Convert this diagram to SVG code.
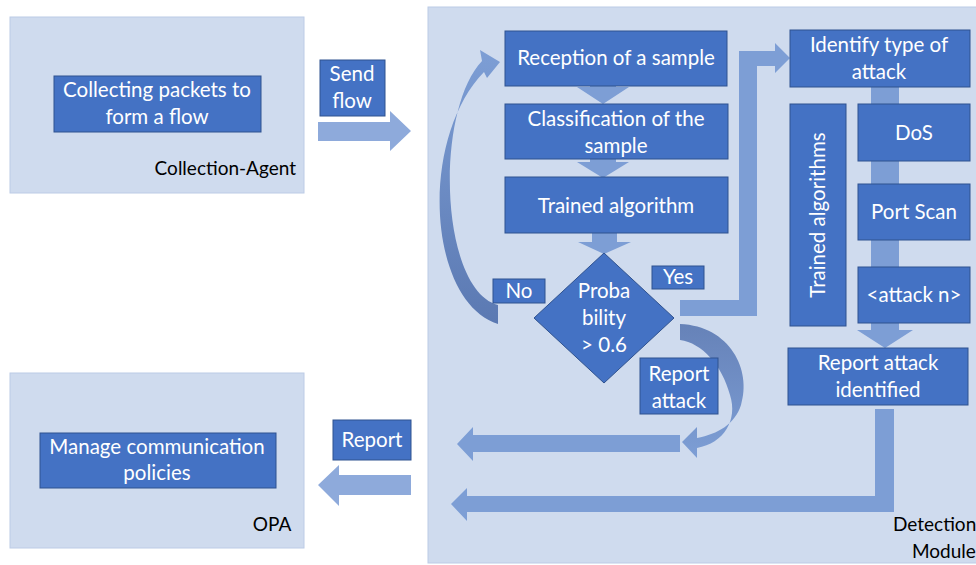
<svg xmlns="http://www.w3.org/2000/svg" width="976" height="565" viewBox="0 0 976 565">
  <defs>
    <style>
      .panel { fill: #cfdbee; stroke: #bccbe6; stroke-width: 1; }
      .box { fill: #4472c4; stroke: #2f528f; stroke-width: 1; }
      .lbl { fill: #ffffff; font-family: Lato, "Liberation Sans", sans-serif; font-size: 20.5px; text-anchor: middle; }
      .cap { fill: #000000; font-family: Lato, "Liberation Sans", sans-serif; font-size: 19px; }
      .flow { fill: #7d9ed5; }
      .flow-light { fill: #8eaadb; }
    </style>
    <linearGradient id="gradNo" x1="0" y1="0" x2="0" y2="1">
      <stop offset="0" stop-color="#7d9ed5"/>
      <stop offset="1" stop-color="#5b79b2"/>
    </linearGradient>
    <linearGradient id="gradReport" x1="0" y1="0" x2="0" y2="1">
      <stop offset="0" stop-color="#6682b8"/>
      <stop offset="1" stop-color="#7d9ed5"/>
    </linearGradient>
  </defs>

  <!-- container panels -->
  <g id="collection-agent">
    <rect class="panel" x="10" y="17" width="294" height="176"/>
    <text class="cap" x="296" y="175" text-anchor="end">Collection-Agent</text>
  </g>
  <g id="opa">
    <rect class="panel" x="10" y="373" width="294" height="175"/>
    <text class="cap" x="272" y="531" text-anchor="middle">OPA</text>
  </g>
  <g id="detection-module">
    <rect class="panel" x="428" y="7" width="560" height="556"/>
    <text class="cap" x="893" y="531">Detection</text>
    <text class="cap" x="912" y="558">Module</text>
  </g>

  <!-- connectors -->
  <g id="connectors">
    <!-- send flow -->
    <path class="flow-light" d="M318,122 L390,122 L390,111 L411,131 L390,151 L390,141 L318,141 Z"/>
    <!-- report to OPA -->
    <path class="flow-light" d="M411,475 L339,475 L339,465 L318,485 L339,506 L339,495 L411,495 Z"/>
    <!-- pipeline steps -->
    <path class="flow" d="M590,80 L616,80 L616,87 L629,87 L603,104 L577,87 L590,87 Z"/>
    <path class="flow" d="M590,155 L616,155 L616,162 L629,162 L603,178 L577,162 L590,162 Z"/>
    <path class="flow" d="M592,228 L617,228 L617,242 L631,242 L604,254 L578,242 L592,242 Z"/>
    <!-- attack type chain -->
    <path class="flow" d="M871,84 L899,84 L899,330 L913,330 L885,348 L857,330 L871,330 Z"/>
    <!-- yes branch -->
    <path class="flow" d="M680,300 L739,300 L739,51 L775,51 L775,43 L790,58 L775,73 L775,66 L757,66 L757,316 L680,316 Z"/>
    <!-- no branch, loops back to reception -->
    <path fill="url(#gradNo)" d="M498,324 C428,302 418,140 484,72 L487,78 L500,62 L480,50 L482,61 C434,112 440,290 498,305 Z"/>
    <!-- report attack curve -->
    <path fill="url(#gradReport)" d="M680,324 C730,326 752,370 741,405 C735,424 718,434 697,438 L697,427 L682,442 L697,458 L697,448 C724,443 738,420 730,395 C722,365 702,343 680,340 Z"/>
    <!-- report attack to OPA -->
    <path class="flow" d="M680,435 L473,435 L473,427 L457,444 L473,461 L473,452 L680,452 Z"/>
    <!-- identified attack to OPA -->
    <path class="flow" d="M875,409 L894,409 L894,512 L467,512 L467,521 L451,504 L467,488 L467,496 L875,496 Z"/>
  </g>

  <!-- nodes -->
  <g id="collecting">
    <rect class="box" x="54" y="76" width="207" height="56"/>
    <text class="lbl" x="157" y="97">Collecting packets to</text>
    <text class="lbl" x="157" y="124">form a flow</text>
  </g>
  <g id="send-flow">
    <rect class="box" x="320" y="60" width="65" height="56"/>
    <text class="lbl" x="352" y="81">Send</text>
    <text class="lbl" x="352" y="108">flow</text>
  </g>
  <g id="report">
    <rect class="box" x="333" y="420" width="78" height="40"/>
    <text class="lbl" x="372" y="447">Report</text>
  </g>
  <g id="manage">
    <rect class="box" x="40" y="433" width="236" height="55"/>
    <text class="lbl" x="157" y="454">Manage communication</text>
    <text class="lbl" x="157" y="480">policies</text>
  </g>
  <g id="reception">
    <rect class="box" x="505" y="31" width="222" height="55"/>
    <text class="lbl" x="616" y="65">Reception of a sample</text>
  </g>
  <g id="classification">
    <rect class="box" x="505" y="104" width="223" height="55"/>
    <text class="lbl" x="616" y="126">Classification of the</text>
    <text class="lbl" x="616" y="153">sample</text>
  </g>
  <g id="trained-algorithm">
    <rect class="box" x="505" y="177" width="223" height="56"/>
    <text class="lbl" x="616" y="213">Trained algorithm</text>
  </g>
  <g id="probability">
    <path class="box" d="M604,253 L674,318 L604,383 L534,318 Z"/>
    <text class="lbl" x="604" y="298">Proba</text>
    <text class="lbl" x="604" y="325">bility</text>
    <text class="lbl" x="604" y="352">&gt; 0.6</text>
  </g>
  <g id="no">
    <rect class="box" x="493" y="279" width="52" height="24"/>
    <text class="lbl" x="519" y="298">No</text>
  </g>
  <g id="yes">
    <rect class="box" x="652" y="266" width="52" height="23"/>
    <text class="lbl" x="678" y="284">Yes</text>
  </g>
  <g id="report-attack">
    <rect class="box" x="640" y="358" width="78" height="56"/>
    <text class="lbl" x="679" y="381">Report</text>
    <text class="lbl" x="679" y="408">attack</text>
  </g>
  <g id="identify">
    <rect class="box" x="790" y="30" width="180" height="57"/>
    <text class="lbl" x="879" y="52">Identify type of</text>
    <text class="lbl" x="879" y="79">attack</text>
  </g>
  <g id="trained-algorithms">
    <rect class="box" x="790" y="104" width="56" height="222"/>
    <text class="lbl" x="825" y="215" transform="rotate(-90 825 215)">Trained algorithms</text>
  </g>
  <g id="dos">
    <rect class="box" x="858" y="104" width="112" height="57"/>
    <text class="lbl" x="914" y="140">DoS</text>
  </g>
  <g id="port-scan">
    <rect class="box" x="858" y="184" width="112" height="56"/>
    <text class="lbl" x="914" y="219">Port Scan</text>
  </g>
  <g id="attack-n">
    <rect class="box" x="858" y="267" width="112" height="56"/>
    <text class="lbl" x="914" y="302">&lt;attack n&gt;</text>
  </g>
  <g id="report-identified">
    <rect class="box" x="788" y="348" width="180" height="57"/>
    <text class="lbl" x="878" y="370">Report attack</text>
    <text class="lbl" x="878" y="397">identified</text>
  </g>
</svg>
